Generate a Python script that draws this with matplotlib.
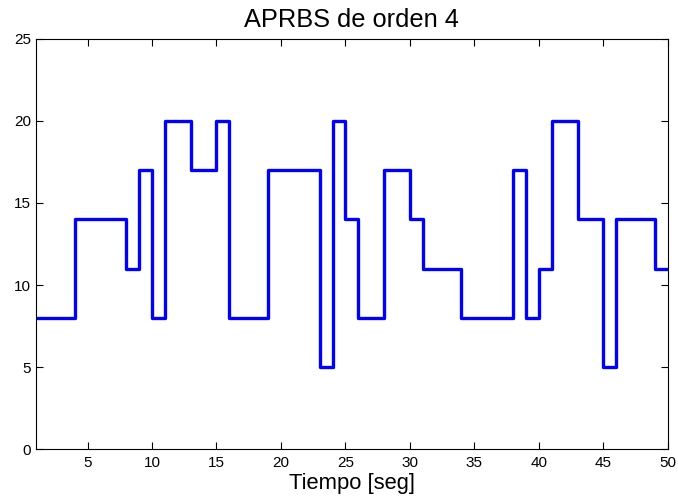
import numpy as np
from matplotlib import pyplot as plt

plt.rcParams['font.family'] = ['Liberation Sans', 'DejaVu Sans']

# APRBS input held for one second per sample
tiempo = np.arange(1, 51)
senal = [8, 8, 8, 14, 14, 14, 14, 11, 17, 8,
         20, 20, 17, 17, 20, 8, 8, 8, 17, 17,
         17, 17, 5, 20, 14, 8, 8, 17, 17, 14,
         11, 11, 11, 8, 8, 8, 8, 17, 8, 11,
         20, 20, 14, 14, 5, 14, 14, 14, 11, 11]

fig = plt.figure(figsize=(6.78, 4.99), dpi=100)
ax = fig.add_axes([0.053, 0.1, 0.932, 0.822])
ax.step(tiempo, senal, where='post', color='#0000ff', linewidth=2.4)

ax.set_xlim(1, 50)
ax.set_ylim(0, 25)
ax.set_xticks(np.arange(5, 51, 5))
ax.set_yticks(np.arange(0, 26, 5))
ax.tick_params(direction='in', top=True, right=True, length=5, width=0.8,
               labelsize=11)
ax.tick_params(axis='x', pad=5)
ax.tick_params(axis='y', pad=3.5)
for s in ax.spines.values():
    s.set_linewidth(0.8)

ax.set_title('APRBS de orden 4', fontsize=18.3, pad=8.6)
ax.set_xlabel('Tiempo [seg]', fontsize=15.8, labelpad=2)

fig.savefig('out.png', dpi=100)
